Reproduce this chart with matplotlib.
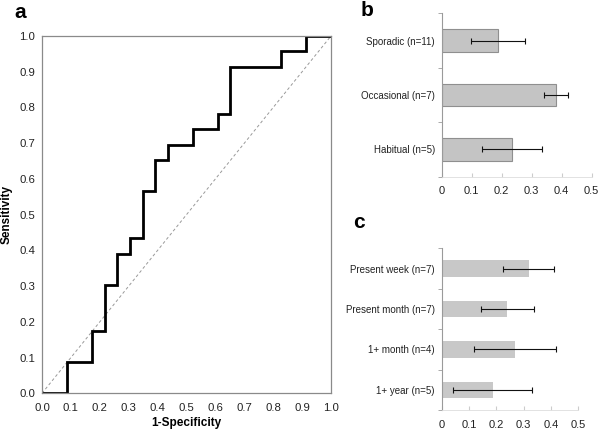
import matplotlib
matplotlib.use("Agg")
import matplotlib.pyplot as plt
import numpy as np

# ROC curve (panel a)
fpr = [0.0, 0.087, 0.087, 0.174, 0.174, 0.217, 0.217, 0.261, 0.261, 0.304, 0.304,
       0.348, 0.348, 0.391, 0.391, 0.435, 0.435, 0.522, 0.522, 0.609, 0.609,
       0.652, 0.652, 0.826, 0.826, 0.913, 0.913, 1.0]
tpr = [0.0, 0.0, 0.087, 0.087, 0.174, 0.174, 0.304, 0.304, 0.391, 0.391, 0.435,
       0.435, 0.565, 0.565, 0.652, 0.652, 0.696, 0.696, 0.739, 0.739, 0.783,
       0.783, 0.913, 0.913, 0.957, 0.957, 1.0, 1.0]
roc_ticks = [0.0, 0.1, 0.2, 0.3, 0.4, 0.5, 0.6, 0.7, 0.8, 0.9, 1.0]

# Panel b
b_labels = ["Sporadic (n=11)", "Occasional (n=7)", "Habitual (n=5)"]
b_values = [0.189, 0.382, 0.235]
b_errors = [0.09, 0.04, 0.10]

# Panel c
c_labels = ["Present week (n=7)", "Present month (n=7)", "1+ month (n=4)", "1+ year (n=5)"]
c_values = [0.319, 0.240, 0.268, 0.187]
c_errors = [0.093, 0.097, 0.150, 0.145]

bar_ticks = [0, 0.1, 0.2, 0.3, 0.4, 0.5]
bar_ticklabels = ["0", "0.1", "0.2", "0.3", "0.4", "0.5"]

plt.rcParams['font.family'] = ['Liberation Sans', 'DejaVu Sans']

W, H = 600, 430
fig = plt.figure(figsize=(6, 4.3), dpi=100)

def rect(l, t, r, b):
    return [l / W, 1 - b / H, (r - l) / W, (b - t) / H]

# ---- Panel a ----
ax = fig.add_axes(rect(42, 36, 331, 393.3))
ax.plot([0, 1], [0, 1], linestyle=(0, (3, 2.5)), color='#999999', lw=0.7)
ax.plot(fpr, tpr, color='black', lw=2.0, solid_joinstyle='miter')
ax.set_xlim(0, 1)
ax.set_ylim(0, 1)
ax.set_xticks(roc_ticks)
ax.set_yticks(roc_ticks)
ax.set_xticklabels([f"{t:.1f}" for t in roc_ticks])
ax.set_yticklabels([f"{t:.1f}" for t in roc_ticks])
ax.tick_params(length=0, labelsize=8.2, colors='#222222')
ax.tick_params(axis='x', pad=7)
ax.tick_params(axis='y', pad=5)
for s in ax.spines.values():
    s.set_color('#8a8a8a')
    s.set_linewidth(0.9)
fig.text(186 / W, 1 - 423 / H, "1-Specificity", fontsize=8.5, fontweight='bold',
         ha='center', va='center')
fig.text(7 / W, 1 - 215 / H, "Sensitivity", fontsize=8.5, fontweight='bold',
         ha='center', va='center', rotation=90)
fig.text(14 / W, 1 - 12 / H, "a", fontsize=15, fontweight='bold', va='center', ha='left')

def style_bar_axes(axb, n, xmax):
    axb.set_ylim(n - 0.5, -0.5)
    axb.set_xlim(0, xmax)
    axb.set_xticks(bar_ticks)
    axb.set_xticklabels(bar_ticklabels)
    axb.set_yticks(range(n))
    axb.set_yticks([i - 0.5 for i in range(n + 1)], minor=True)
    axb.tick_params(axis='y', which='major', length=0, labelsize=7, pad=5, colors='#222222')
    axb.tick_params(axis='y', which='minor', length=3, color='#aaaaaa', width=0.7)
    axb.tick_params(axis='x', which='major', direction='in', length=3, color='#cccccc',
                    labelsize=8, pad=7, labelcolor='#222222')
    for s in ['top', 'right']:
        axb.spines[s].set_visible(False)
    axb.spines['left'].set_color('#9a9a9a')
    axb.spines['left'].set_linewidth(0.8)
    axb.spines['bottom'].set_color('#dddddd')
    axb.spines['bottom'].set_linewidth(0.6)

# ---- Panel b ----
axb = fig.add_axes(rect(441.7, 13.3, 591.7, 176.7))
yb = np.arange(len(b_labels))
axb.barh(yb, b_values, height=0.41, color='#c4c4c4', edgecolor='#8f8f8f', linewidth=0.8)
axb.errorbar(b_values, yb, xerr=b_errors, fmt='none', ecolor='#111111', elinewidth=0.8,
             capsize=2, capthick=0.8)
axb.set_yticklabels(b_labels)
style_bar_axes(axb, len(b_labels), 0.5)
fig.text(361 / W, 1 - 11 / H, "b", fontsize=15, fontweight='bold', va='center', ha='left')

# ---- Panel c ----
axc = fig.add_axes(rect(441.7, 248.3, 578.3, 410))
yc = np.arange(len(c_labels))
axc.barh(yc, c_values, height=0.41, color='#c8c8c8', edgecolor='none')
axc.errorbar(c_values, yc, xerr=c_errors, fmt='none', ecolor='#111111', elinewidth=0.8,
             capsize=2, capthick=0.8)
axc.set_yticklabels(c_labels)
style_bar_axes(axc, len(c_labels), 0.5)
fig.text(353 / W, 1 - 222 / H, "c", fontsize=15, fontweight='bold', va='center', ha='left')

fig.savefig("out.png", dpi=100, facecolor='white')
